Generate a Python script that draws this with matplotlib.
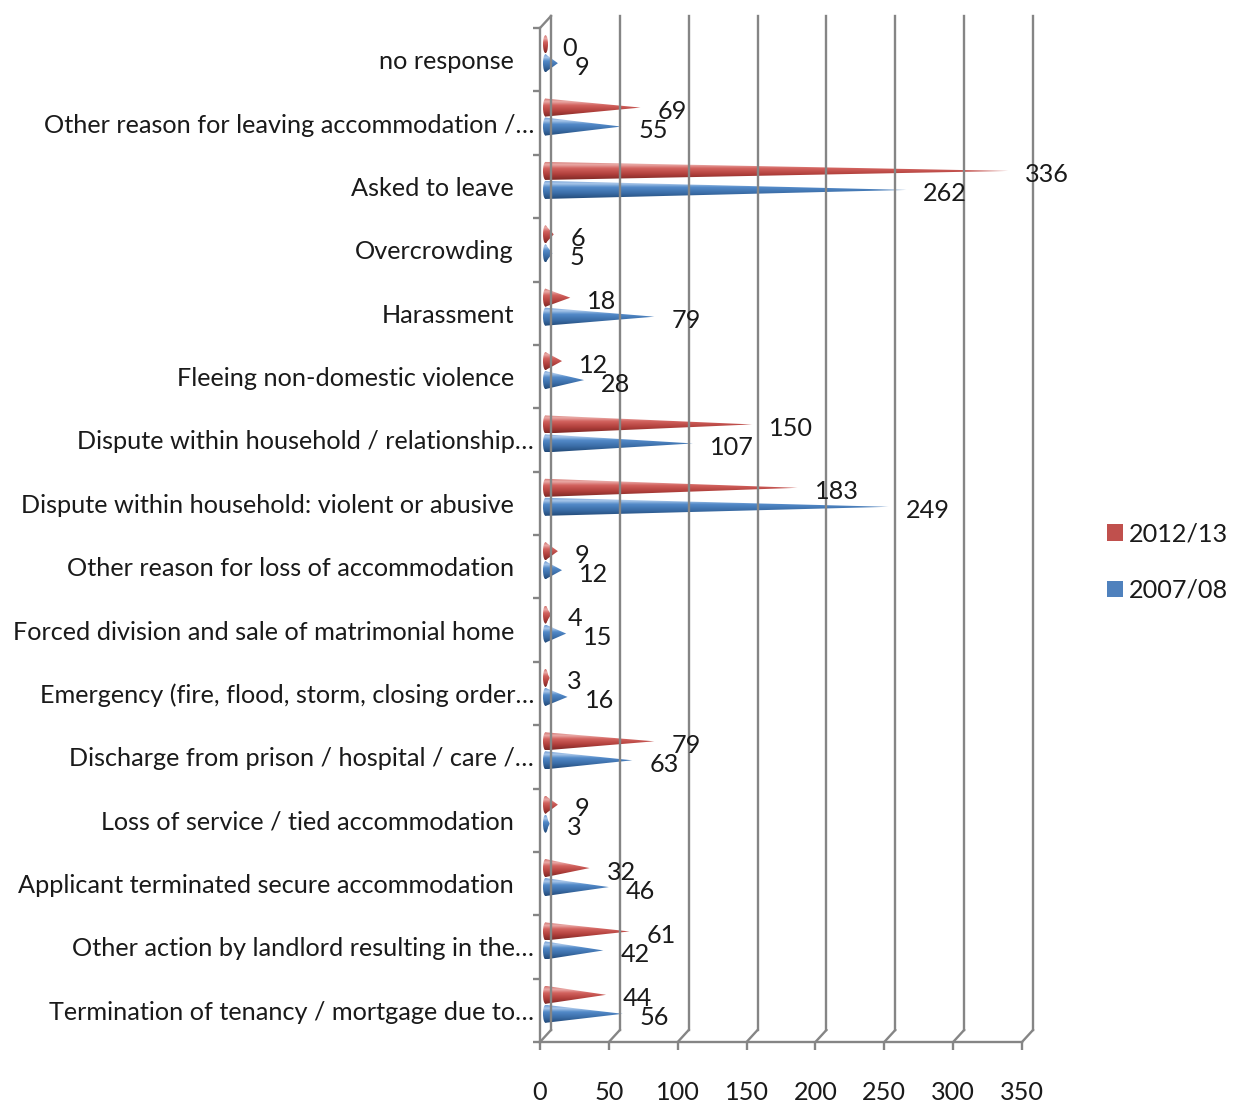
import matplotlib
matplotlib.use("Agg")
import matplotlib.pyplot as plt
import numpy as np
from matplotlib import font_manager
from matplotlib.colors import LinearSegmentedColormap
from matplotlib.patches import Polygon, Ellipse, Patch

# reasons for homelessness, listed top to bottom
categories = [
    "no response",
    "Other reason for leaving accommodation /\u2026",
    "Asked to leave",
    "Overcrowding",
    "Harassment",
    "Fleeing non-domestic violence",
    "Dispute within household / relationship\u2026",
    "Dispute within household: violent or abusive",
    "Other reason for loss of accommodation",
    "Forced division and sale of matrimonial home",
    "Emergency (fire, flood, storm, closing order\u2026",
    "Discharge from prison / hospital / care /\u2026",
    "Loss of service / tied accommodation",
    "Applicant terminated secure accommodation",
    "Other action by landlord resulting in the\u2026",
    "Termination of tenancy / mortgage due to\u2026",
]
vals_2012 = [0, 69, 336, 6, 18, 12, 150, 183, 9, 4, 3, 79, 9, 32, 61, 44]
vals_2007 = [9, 55, 262, 5, 79, 28, 107, 249, 12, 15, 16, 63, 3, 46, 42, 56]
series_names = ["2012/13", "2007/08"]
x_ticks = [0, 50, 100, 150, 200, 250, 300, 350]

installed = {f.name for f in font_manager.fontManager.ttflist}
if "Liberation Sans Narrow" in installed:
    plt.rcParams["font.family"] = "Liberation Sans Narrow"
    FS = 21
else:
    plt.rcParams["font.family"] = "Lato"
    FS = 18.2
TXT = "#1a1a1a"
GRID = "#858585"

W, H = 1236, 1104
fig = plt.figure(figsize=(W / 100, H / 100), dpi=100)
ax = fig.add_axes([540 / W, 62 / H, 482 / W, 1014 / H])
XMAX, NCAT = 350, len(categories)
px_x = XMAX / 482      # data units per pixel
px_y = NCAT / 1014

# 3-D depth of the chart box, and the mid plane where the cones sit
DX, DY = 11 * px_x, 12 * px_y
MID_DX, MID_DY = DX / 2, DY / 2

# back wall gridlines, floor diagonals and the top edge of the side wall
for t in x_ticks:
    ax.plot([t + DX, t + DX], [DY, NCAT + DY], color=GRID, lw=1.7, clip_on=False)
    ax.plot([t, t + DX], [0, DY], color=GRID, lw=1.7, clip_on=False)
ax.plot([0, DX], [NCAT, NCAT + DY], color=GRID, lw=1.7, clip_on=False)

for s in ["top", "right"]:
    ax.spines[s].set_visible(False)
for s in ["left", "bottom"]:
    ax.spines[s].set_color(GRID)
    ax.spines[s].set_linewidth(1.7)

ax.set_xticks(x_ticks)
ax.set_xticklabels([str(t) for t in x_ticks], fontsize=FS, color=TXT)
ax.set_yticks(range(NCAT + 1))
ax.set_yticklabels([])
ax.tick_params(axis="x", length=6, width=1.7, color=GRID, pad=22)
ax.tick_params(axis="y", length=5, width=1.7, color=GRID)

red_cmap = LinearSegmentedColormap.from_list(
    "red_cone", [(0, "#7e2926"), (0.3, "#b03f3b"), (0.62, "#d2625e"),
                 (0.82, "#eaaaa7"), (1, "#d27470")])
blue_cmap = LinearSegmentedColormap.from_list(
    "blue_cone", [(0, "#234a78"), (0.3, "#3a6ca6"), (0.62, "#5289c8"),
                  (0.82, "#a9c7ea"), (1, "#6f9dd4")])
grad = np.linspace(0, 1, 64).reshape(-1, 1)


def draw_cone(v, yc, cmap):
    x0 = MID_DX
    tip = v + MID_DX
    hh = 9 * px_y
    ew = 2.5 * px_x
    ext = (x0 - ew, max(tip, x0 + ew), yc - hh, yc + hh)
    tri = Polygon([(x0, yc + hh), (tip, yc), (x0, yc - hh)], closed=True,
                  fc="none", ec="none")
    ell = Ellipse((x0, yc), 2 * ew, 2 * hh, fc="none", ec="none")
    for clip in (tri, ell):
        ax.add_patch(clip)
        im = ax.imshow(grad, cmap=cmap, origin="lower", extent=ext,
                       aspect="auto", interpolation="bilinear")
        im.set_clip_path(clip)
    ax.annotate(str(v), xy=(tip, yc), xytext=(17, -4), textcoords="offset pixels",
                ha="left", va="center", fontsize=FS, color=TXT)


for i, (cat, a, b) in enumerate(zip(categories, vals_2012, vals_2007)):
    yc = NCAT - 0.5 - i
    draw_cone(a, yc + (6 + 9.5) * px_y, red_cmap)
    draw_cone(b, yc + (6 - 9.5) * px_y, blue_cmap)
    shift = -6 if cat.endswith("\u2026") else -26
    ax.annotate(cat, xy=(0, yc), xytext=(shift, -2), textcoords="offset pixels",
                ha="right", va="center", fontsize=FS, color=TXT)

ax.set_xlim(0, XMAX)
ax.set_ylim(0, NCAT)

handles = [Patch(fc="#c0504d", ec="none"), Patch(fc="#4f81bd", ec="none")]
fig.legend(handles, series_names, loc="center left",
           bbox_to_anchor=(1107 / W, 1 - 562 / H), frameon=False, fontsize=FS,
           borderpad=0, borderaxespad=0,
           handlelength=0.63, handleheight=0.63, handletextpad=0.25,
           labelspacing=1.32, labelcolor=TXT)

fig.savefig("out.png", dpi=100)
